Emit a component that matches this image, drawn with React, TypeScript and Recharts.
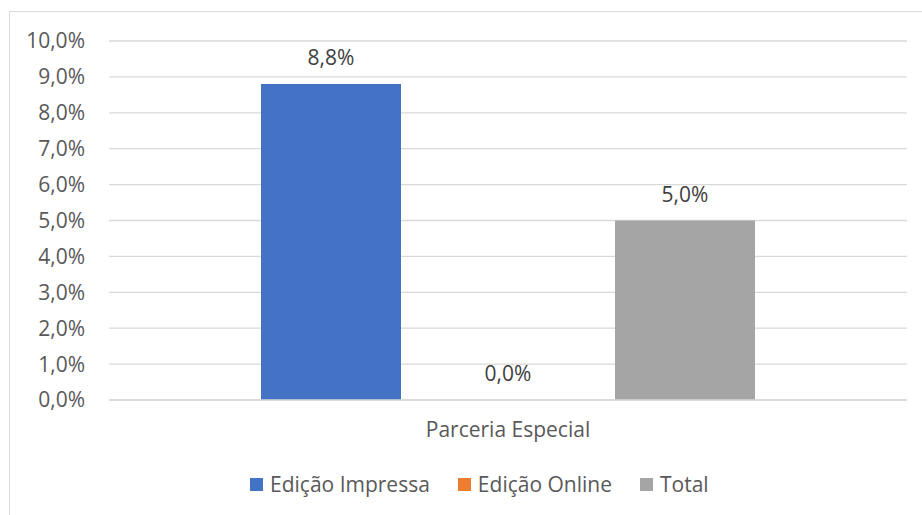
import React from "react";
import { BarChart, Bar, XAxis, YAxis, CartesianGrid, Legend, LabelList } from "recharts";

const categories = ["Parceria Especial"];
const impressa = [8.8];
const online = [0.0];
const total = [5.0];
const yTicks = [0, 1, 2, 3, 4, 5, 6, 7, 8, 9, 10];
const seriesNames = ["Edição Impressa", "Edição Online", "Total"];
const seriesColors = ["#4472C4", "#ED7D31", "#A5A5A5"];

const data = categories.map((c, i) => ({
  name: c,
  impressa: impressa[i],
  online: online[i],
  total: total[i],
}));

const FONT = "'Open Sans', sans-serif";
const TEXT = "#595959";
const FS = 21;

const fmt = (v: number) => Number(v).toFixed(1).replace(".", ",") + "%";

const renderLegend = () => (
  <div style={{ display: "flex", alignItems: "center", fontFamily: FONT, fontSize: FS, color: TEXT, whiteSpace: "nowrap" }}>
    {seriesNames.map((n, i) => (
      <div key={n} style={{ display: "flex", alignItems: "center", marginRight: 28 }}>
        <span style={{ width: 13, height: 13, background: seriesColors[i], display: "inline-block", marginRight: 7 }} />
        <span>{n}</span>
      </div>
    ))}
  </div>
);

const labelStyle = { fill: "#404040", fontFamily: FONT, fontSize: FS };

export default function App() {
  return (
    <div
      style={{
        position: "fixed",
        left: 9,
        top: 11,
        width: 912,
        height: 503,
        borderLeft: "1px solid #d9d9d9",
        borderTop: "1px solid #d9d9d9",
        background: "#fff",
      }}
    >
      <BarChart
        width={912}
        height={503}
        data={data}
        margin={{ top: 29, right: 15, left: 0, bottom: 47 }}
        barSize={140}
        barGap={37}
      >
        <CartesianGrid vertical={false} stroke="#d9d9d9" strokeWidth={1.3} />
        <XAxis
          dataKey="name"
          axisLine={{ stroke: "#d9d9d9", strokeWidth: 1.3 }}
          tickLine={false}
          tickSize={0}
          tickMargin={22}
          height={40}
          tick={{ fill: TEXT, fontFamily: FONT, fontSize: FS }}
        />
        <YAxis
          width={99}
          domain={[0, 10]}
          ticks={yTicks}
          interval={0}
          axisLine={false}
          tickLine={false}
          tickSize={0}
          tickMargin={24}
          tickFormatter={fmt}
          tick={{ fill: TEXT, fontFamily: FONT, fontSize: FS }}
        />
        <Legend
          content={renderLegend}
          wrapperStyle={{ position: "absolute", left: 240, top: 458, width: "auto" }}
        />
        <Bar dataKey="impressa" name={seriesNames[0]} fill={seriesColors[0]} isAnimationActive={false}>
          <LabelList dataKey="impressa" position="top" offset={19} formatter={fmt} style={labelStyle} />
        </Bar>
        <Bar dataKey="online" name={seriesNames[1]} fill={seriesColors[1]} minPointSize={0.01} isAnimationActive={false}>
          <LabelList dataKey="online" position="top" offset={19} formatter={fmt} style={labelStyle} />
        </Bar>
        <Bar dataKey="total" name={seriesNames[2]} fill={seriesColors[2]} isAnimationActive={false}>
          <LabelList dataKey="total" position="top" offset={19} formatter={fmt} style={labelStyle} />
        </Bar>
      </BarChart>
    </div>
  );
}
